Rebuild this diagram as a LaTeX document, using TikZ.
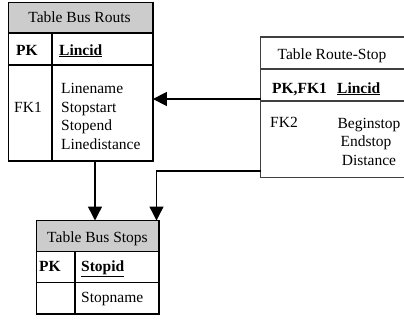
\documentclass[tikz,border=0pt]{standalone}
\usepackage{fontspec}
\setmainfont{Liberation Serif}
\usetikzlibrary{arrows.meta}
\begin{document}
\begin{tikzpicture}[x=1pt,y=-1pt,
  frame/.style={draw=black,line width=1.3pt},
  gframe/.style={draw=black!75,line width=1.3pt},
  txt/.style={font=\fontsize{15.5}{18}\selectfont,inner sep=0pt},
  arr/.style={line width=1.4pt,-{Triangle[length=14pt,width=14pt]}}]
\useasboundingbox (0,0) rectangle (404,324);
\clip (0,0) rectangle (404,324);
\fill[white] (0,0) rectangle (404,324);

% ---------- Table Bus Routs ----------
\node[rectangle,inner sep=0pt,anchor=north west,minimum width=144pt,minimum height=158pt] (routs) at (8.5,2.5) {};
\fill[black!20] (routs.north west) rectangle (152.5,33);
\draw[frame] (routs.north west) rectangle (routs.south east);
\draw[frame] (routs.west |- 0,33) -- (routs.east |- 0,33);
\draw[frame] (routs.west |- 0,65) -- (routs.east |- 0,65);
\draw[frame] (52,33) -- (52,160.5);
\node[txt,anchor=base] (rh) at (79.5,23) {Table Bus Routs};
\node[txt,anchor=base] (rpk) at (27,55) {\textbf{PK}};
\node[txt,anchor=base west] (rid) at (59,55) {\textbf{\underline{Lincid}}};
\node[txt,anchor=base] (rfk) at (28,112) {FK1};
\node[txt,anchor=base west] (r1) at (61,93.5) {Linename};
\node[txt,anchor=base west] (r2) at (61,112) {Stopstart};
\node[txt,anchor=base west] (r3) at (61,130.5) {Stopend};
\node[txt,anchor=base west] (r4) at (61,149) {Linedistance};

% ---------- Table Route-Stop ----------
\node[rectangle,inner sep=0pt,anchor=north west,minimum width=160pt,minimum height=140pt] (rs) at (260.5,37) {};
\draw[gframe] (rs.north west) rectangle (rs.south east);
\draw[gframe] (rs.west |- 0,69) -- (rs.east |- 0,69);
\draw[gframe] (rs.west |- 0,101) -- (rs.east |- 0,101);
\node[txt,anchor=base] (sh) at (332,59) {Table Route-Stop};
\node[txt,anchor=base west] (spk) at (272,93) {\textbf{PK,FK1}};
\node[txt,anchor=base west] (sid) at (337,93) {\textbf{\underline{Lincid}}};
\node[txt,anchor=base west] (sfk) at (270,127) {FK2};
\node[txt,anchor=base] (s1) at (369,128) {Beginstop};
\node[txt,anchor=base] (s2) at (366,146.5) {Endstop};
\node[txt,anchor=base] (s3) at (369,165) {Distance};

% ---------- Table Bus Stops ----------
\node[rectangle,inner sep=0pt,anchor=north west,minimum width=122pt,minimum height=93pt] (stops) at (36.5,220.5) {};
\fill[black!20] (stops.north west) rectangle (158.5,251.5);
\draw[frame] (stops.north west) rectangle (stops.south east);
\draw[frame] (stops.west |- 0,251.5) -- (stops.east |- 0,251.5);
\draw[frame] (stops.west |- 0,282.5) -- (stops.east |- 0,282.5);
\draw[frame] (75,251.5) -- (75,313.5);
\node[txt,anchor=base] (th) at (97.5,242) {Table Bus Stops};
\node[txt,anchor=base] (tpk) at (50,271) {\textbf{PK}};
\node[txt,anchor=base west] (tid) at (81,271) {\textbf{\underline{Stopid}}};
\node[txt,anchor=base west] (tn) at (81,302) {Stopname};

% ---------- connectors ----------
\coordinate (ya) at (0,99);
\coordinate (yb) at (0,171);
\coordinate (xa) at (95,0);
\coordinate (xb) at (156.5,0);
\draw[arr] (rs.west |- ya) -- (routs.east |- ya);
\draw[arr] (routs.south -| xa) -- (stops.north -| xa);
\draw[arr,line join=miter] (rs.west |- yb) -| (stops.north -| xb);
\end{tikzpicture}
\end{document}
